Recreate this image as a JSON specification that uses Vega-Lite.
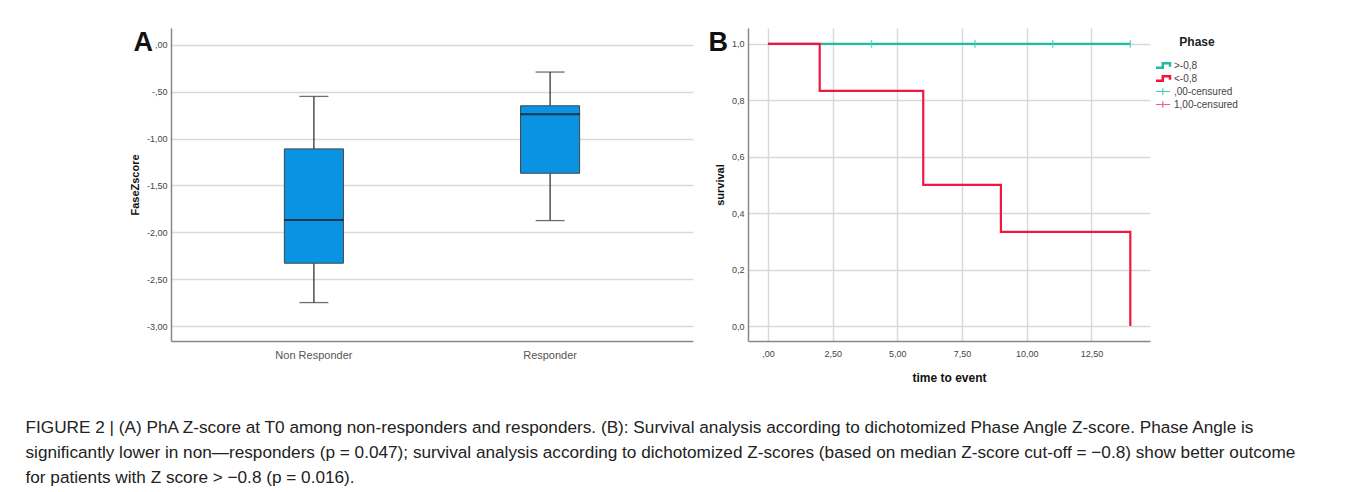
{
  "$schema": "https://vega.github.io/schema/vega-lite/v6.json",
  "background": "white",
  "padding": {"left": 25, "top": 28, "right": 5, "bottom": 5},
  "config": {
    "font": "Liberation Sans",
    "view": {"stroke": null},
    "axis": {"labelColor": "#444", "titleColor": "#111", "domainColor": "#888", "domainWidth": 1.5, "gridColor": "#d9d9d9", "gridWidth": 1.5, "ticks": false}
  },
  "title": {
    "text": [
      "FIGURE 2 | (A) PhA Z-score at T0 among non-responders and responders. (B): Survival analysis according to dichotomized Phase Angle Z-score. Phase Angle is",
      "significantly lower in non—responders (p = 0.047); survival analysis according to dichotomized Z-scores (based on median Z-score cut-off = −0.8) show better outcome",
      "for patients with Z score > −0.8 (p = 0.016)."
    ],
    "orient": "bottom",
    "anchor": "start",
    "frame": "bounds",
    "fontSize": 17.2,
    "fontWeight": "normal",
    "color": "#222",
    "lineHeight": 25,
    "offset": 36,
    "dx": -104
  },
  "datasets": {
    "box": [
      {"group": "Non Responder", "lower": -2.75, "q1": -2.33, "median": -1.87, "q3": -1.11, "upper": -0.55},
      {"group": "Responder", "lower": -1.875, "q1": -1.37, "median": -0.74, "q3": -0.65, "upper": -0.29}
    ],
    "surv": [
      {"Phase": ">-0,8", "time": 0, "survival": 1},
      {"Phase": ">-0,8", "time": 14, "survival": 1},
      {"Phase": "<-0,8", "time": 0, "survival": 1},
      {"Phase": "<-0,8", "time": 2, "survival": 0.8333},
      {"Phase": "<-0,8", "time": 6, "survival": 0.5},
      {"Phase": "<-0,8", "time": 9, "survival": 0.3333},
      {"Phase": "<-0,8", "time": 14, "survival": 0}
    ],
    "cens": [
      {"Phase": ",00-censured", "time": 4, "survival": 1},
      {"Phase": ",00-censured", "time": 8, "survival": 1},
      {"Phase": ",00-censured", "time": 11, "survival": 1},
      {"Phase": ",00-censured", "time": 14, "survival": 1}
    ]
  },
  "hconcat": [
    {
      "width": 522,
      "height": 313,
      "title": {"text": "A", "anchor": "start", "frame": "bounds", "fontSize": 27, "fontWeight": "bold", "color": "#111", "offset": 0, "dy": 29, "dx": 4},
      "data": {"name": "box"},
      "encoding": {
        "x": {"field": "group", "type": "nominal", "sort": ["Non Responder", "Responder"],
          "scale": {"paddingInner": 0.75, "paddingOuter": 0.48},
          "axis": {"title": null, "labelAngle": 0, "labelFontSize": 11, "labelColor": "#555", "labelPadding": 8, "grid": false}}
      },
      "layer": [
        {
          "mark": {"type": "rule", "color": "#333", "strokeWidth": 1.3},
          "encoding": {
            "y": {"field": "lower", "type": "quantitative", "scale": {"domain": [-3.16, 0.18], "nice": false, "zero": false},
              "axis": {"title": "FaseZscore", "titleFontSize": 11, "titleFontWeight": "bold", "titlePadding": 6, "labelFontSize": 9, "labelPadding": 4,
                "values": [0, -0.5, -1, -1.5, -2, -2.5, -3],
                "labelExpr": "datum.value == 0 ? ',00' : datum.value == -0.5 ? '-,50' : replace(replace(format(datum.value, '.2f'), '.', ','), '\u2212', '-')"}},
            "y2": {"field": "q1"}
          }
        },
        {
          "mark": {"type": "rule", "color": "#333", "strokeWidth": 1.3},
          "encoding": {"y": {"field": "q3", "type": "quantitative"}, "y2": {"field": "upper"}}
        },
        {
          "mark": {"type": "tick", "color": "#333", "size": 29, "thickness": 1.3},
          "encoding": {"y": {"field": "lower", "type": "quantitative"}}
        },
        {
          "mark": {"type": "tick", "color": "#333", "size": 29, "thickness": 1.3},
          "encoding": {"y": {"field": "upper", "type": "quantitative"}}
        },
        {
          "mark": {"type": "bar", "color": "#0a93e3", "stroke": "#444", "strokeWidth": 1},
          "encoding": {"y": {"field": "q1", "type": "quantitative"}, "y2": {"field": "q3"}}
        },
        {
          "mark": {"type": "tick", "color": "#111", "size": 59, "thickness": 2},
          "encoding": {"y": {"field": "median", "type": "quantitative"}}
        }
      ]
    },
    {
      "width": 402,
      "height": 313,
      "title": {"text": "B", "anchor": "start", "frame": "bounds", "fontSize": 27, "fontWeight": "bold", "color": "#111", "offset": 0, "dy": 29, "dx": -6},
      "encoding": {
        "x": {"field": "time", "type": "quantitative", "scale": {"domain": [-0.77, 14.76], "nice": false, "zero": false},
          "axis": {"title": "time to event", "titleFontSize": 12, "titleFontWeight": "bold", "titlePadding": 14, "labelFontSize": 9, "labelPadding": 8,
            "values": [0, 2.5, 5, 7.5, 10, 12.5],
            "labelExpr": "datum.value == 0 ? ',00' : replace(format(datum.value, '.2f'), '.', ',')"}},
        "y": {"field": "survival", "type": "quantitative", "scale": {"domain": [-0.053, 1.056], "nice": false, "zero": false},
          "axis": {"title": "survival", "titleFontSize": 11, "titleFontWeight": "bold", "titlePadding": 6, "labelFontSize": 9, "labelPadding": 4,
            "values": [0, 0.2, 0.4, 0.6, 0.8, 1],
            "labelExpr": "replace(format(datum.value, '.1f'), '.', ',')"}},
        "color": {"field": "Phase", "type": "nominal",
          "scale": {"domain": [">-0,8", "<-0,8", ",00-censured", "1,00-censured"], "range": ["#1cbfa6", "#f2163f", "#3ccfc0", "#f5607f"]},
          "legend": {"title": "Phase", "orient": "none", "legendX": 985, "legendY": 9, "titleFontSize": 12, "titleFontWeight": "bold", "titleColor": "#222", "titleAnchor": "middle", "titlePadding": 10, "labelFontSize": 10, "labelColor": "#444",
            "symbolSize": 324, "symbolStrokeWidth": 2, "symbolFillColor": "transparent", "rowPadding": 0, "clipHeight": 13, "labelOffset": 8,
            "encode": {"symbols": {"update": {
              "shape": {"signal": "datum.index < 2 ? 'M-1,0.25H0.2V-0.25H1V0.15' : 'M-0.6,0H1M0.2,-0.35V0.35'"},
              "fill": {"value": "transparent"},
              "fillOpacity": {"value": 0},
              "strokeWidth": {"signal": "datum.index < 2 ? 2.5 : 1.2"}
            }}}}
        }
      },
      "layer": [
        {
          "data": {"name": "surv"},
          "transform": [{"filter": "datum.Phase == '>-0,8'"}],
          "mark": {"type": "line", "interpolate": "step-after", "strokeWidth": 2.2}
        },
        {
          "data": {"name": "surv"},
          "transform": [{"filter": "datum.Phase == '<-0,8'"}],
          "mark": {"type": "line", "interpolate": "step-after", "strokeWidth": 2.2}
        },
        {
          "data": {"name": "cens"},
          "mark": {"type": "tick", "orient": "vertical", "size": 8, "thickness": 1.5, "color": "#1cbfa6"}
        }
      ]
    }
  ],
  "spacing": 15
}
